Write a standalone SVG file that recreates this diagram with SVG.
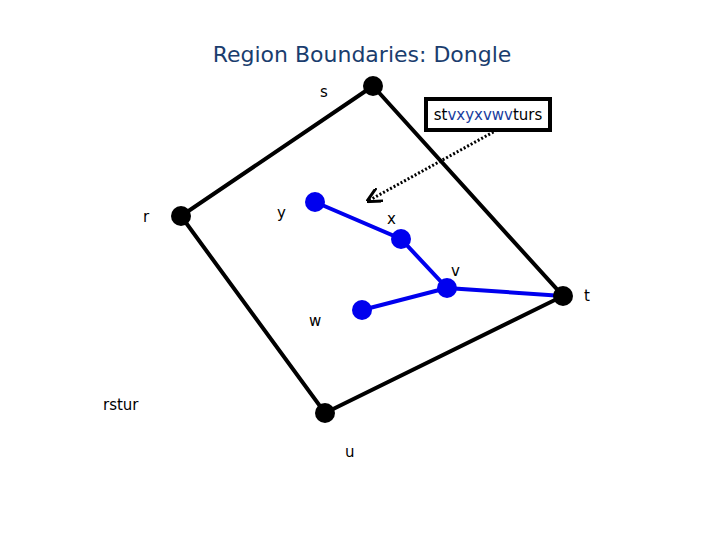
<svg xmlns="http://www.w3.org/2000/svg" width="720" height="540" viewBox="0 0 720 540">
<style>
text{font-family:"DejaVu Sans","Liberation Sans",sans-serif;font-size:15px;fill:#000}
.title{font-size:22px;fill:#1a3d6e}
.b{stroke:#000;stroke-width:4;fill:none}
.bl{stroke:#0000ee;stroke-width:4;fill:none}
.nb{fill:#000}
.nbl{fill:#0000ee}
</style>
<defs>
<marker id="ah" viewBox="0 0 10 10" refX="9" refY="5" markerWidth="5" markerHeight="5" orient="auto"><path d="M0,0L10,5L0,10" fill="none" stroke="#000" stroke-width="2"/></marker>
</defs>
<rect width="720" height="540" fill="#fff"/>
<text class="title" x="362" y="62" text-anchor="middle">Region Boundaries: Dongle</text>
<g id="connectors">
<polyline class="b" points="373,86 563,296 325,413 181,216 373,86"/>
<polyline class="bl" points="315,202 401,239 447,288 563,296"/>
<line class="bl" x1="447" y1="288" x2="362" y2="310"/>
<line x1="497" y1="130" x2="368" y2="201" stroke="#000" stroke-width="3" stroke-dasharray="2,2" marker-end="url(#ah)"/>
</g>
<g id="s"><circle class="nb" cx="373" cy="86" r="10"/><text x="320" y="97">s</text></g>
<g id="r"><circle class="nb" cx="181" cy="216" r="10"/><text x="143" y="222">r</text></g>
<g id="t"><circle class="nb" cx="563" cy="296" r="10"/><text x="584" y="301">t</text></g>
<g id="u"><circle class="nb" cx="325" cy="413" r="10"/><text x="345" y="457">u</text></g>
<g id="y"><circle class="nbl" cx="315" cy="202" r="10"/><text x="277" y="218">y</text></g>
<g id="x"><circle class="nbl" cx="401" cy="239" r="10"/><text x="387" y="224">x</text></g>
<g id="v"><circle class="nbl" cx="447" cy="288" r="10"/><text x="451" y="276">v</text></g>
<g id="w"><circle class="nbl" cx="362" cy="310" r="10"/><text x="309" y="326">w</text></g>
<g id="rstur"><text x="103" y="410">rstur</text></g>
<g id="label"><rect x="426" y="99" width="124" height="31" fill="#fff" stroke="#000" stroke-width="4"/>
<text x="488" y="120" text-anchor="middle">st<tspan fill="#1a3d9e">vxyxvwv</tspan>turs</text></g>
</svg>
